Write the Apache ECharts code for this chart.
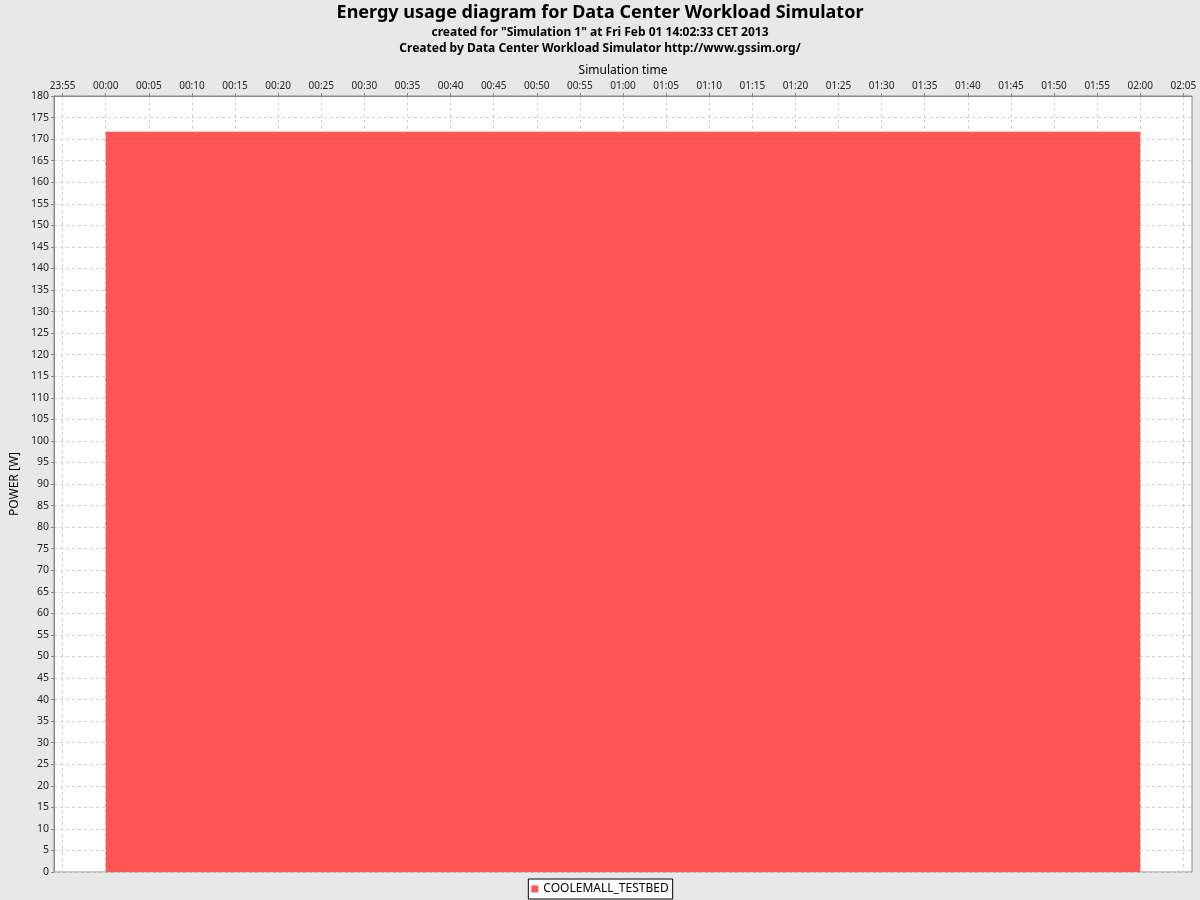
<!DOCTYPE html>
<html>
<head>
<meta charset="utf-8">
<script src="https://cdn.jsdelivr.net/npm/echarts@6/dist/echarts.min.js"></script>
<style>
html,body{margin:0;padding:0;background:#e8e8e8;}
#chart{width:1200px;height:900px;}
</style>
</head>
<body>
<div id="chart"></div>
<script>
// ---- data ----
var seriesName = 'COOLEMALL_TESTBED';
var sampleTimes = ['00:00', '02:00'];          // simulation time of samples
var powerValues = [171.7, 171.7];              // POWER [W]
var xTickLabels = ['23:55','00:00','00:05','00:10','00:15','00:20','00:25','00:30','00:35','00:40','00:45','00:50','00:55',
                   '01:00','01:05','01:10','01:15','01:20','01:25','01:30','01:35','01:40','01:45','01:50','01:55','02:00','02:05'];
var xRange = ['23:54', '02:06'];
var yMin = 0, yMax = 180, yStep = 5;

function toMin(s) {
  var p = s.split(':'); var h = +p[0], m = +p[1];
  if (h >= 12) h -= 24;
  return h * 60 + m;
}
function fmt(v) {
  var t = Math.round(v);
  var tt = ((t % 1440) + 1440) % 1440;
  var h = Math.floor(tt / 60), m = tt % 60;
  return (h < 10 ? '0' : '') + h + ':' + (m < 10 ? '0' : '') + m;
}
var tickVals = xTickLabels.map(toMin);
var data = sampleTimes.map(function (t, i) { return [toMin(t), powerValues[i]]; });

var chart = echarts.init(document.getElementById('chart'));
var gridColor = '#d0d0d0';
var axisColor = '#888888';
var fontFam = 'Noto Sans, DejaVu Sans, sans-serif';
chart.setOption({
  backgroundColor: '#e8e8e8',
  animation: false,
  title: [
    { text: 'Energy usage diagram for Data Center Workload Simulator', left: 'center', top: -1,
      textStyle: { fontFamily: fontFam, fontSize: 18, fontWeight: 'bold', color: '#000' } },
    { text: 'created for "Simulation 1" at Fri Feb 01 14:02:33 CET 2013', left: 'center', top: 22,
      textStyle: { fontFamily: fontFam, fontSize: 12, fontWeight: 'bold', color: '#000' } },
    { text: 'Created by Data Center Workload Simulator http://www.gssim.org/', left: 'center', top: 38,
      textStyle: { fontFamily: fontFam, fontSize: 12, fontWeight: 'bold', color: '#000' } }
  ],
  legend: {
    bottom: 1, left: 'center',
    data: [seriesName],
    icon: 'rect', itemWidth: 7, itemHeight: 7, itemGap: 5,
    backgroundColor: '#ffffff', borderColor: '#000000', borderWidth: 1, borderRadius: 0,
    padding: [4, 4, 4, 3],
    textStyle: { fontFamily: fontFam, fontSize: 12, color: '#000' }
  },
  grid: { left: 54, right: 8, top: 96, bottom: 28, show: true, backgroundColor: '#ffffff',
          borderColor: axisColor, borderWidth: 1 },
  xAxis: {
    type: 'value', position: 'top',
    min: toMin(xRange[0]), max: toMin(xRange[1]),
    name: 'Simulation time', nameLocation: 'middle', nameGap: 19,
    nameTextStyle: { fontFamily: fontFam, fontSize: 12, color: '#000' },
    axisLine: { show: true, onZero: false, lineStyle: { color: axisColor } },
    axisTick: { show: true, length: 3, lineStyle: { color: axisColor }, customValues: tickVals },
    axisLabel: { customValues: tickVals, formatter: fmt, margin: 5,
                 fontFamily: fontFam, fontSize: 10, color: '#222' },
    splitLine: { show: true, lineStyle: { color: gridColor, type: [3, 3], width: 1 } }
  },
  yAxis: {
    type: 'value', min: yMin, max: yMax, interval: yStep,
    name: 'POWER [W]', nameLocation: 'middle', nameGap: 28, nameRotate: 90,
    nameTextStyle: { fontFamily: fontFam, fontSize: 12, color: '#000' },
    axisLine: { show: true, onZero: false, lineStyle: { color: axisColor } },
    axisTick: { show: true, length: 3, lineStyle: { color: axisColor } },
    axisLabel: { margin: 5, fontFamily: fontFam, fontSize: 10.5, color: '#222' },
    splitLine: { show: true, lineStyle: { color: gridColor, type: [3, 3], width: 1 } }
  },
  series: [{
    name: seriesName, type: 'line', data: data,
    symbol: 'none', step: 'end',
    itemStyle: { color: '#FF5555' },
    lineStyle: { width: 0, color: '#FF5555' },
    areaStyle: { color: '#FF5555', opacity: 1 }
  }]
});
</script>
</body>
</html>
